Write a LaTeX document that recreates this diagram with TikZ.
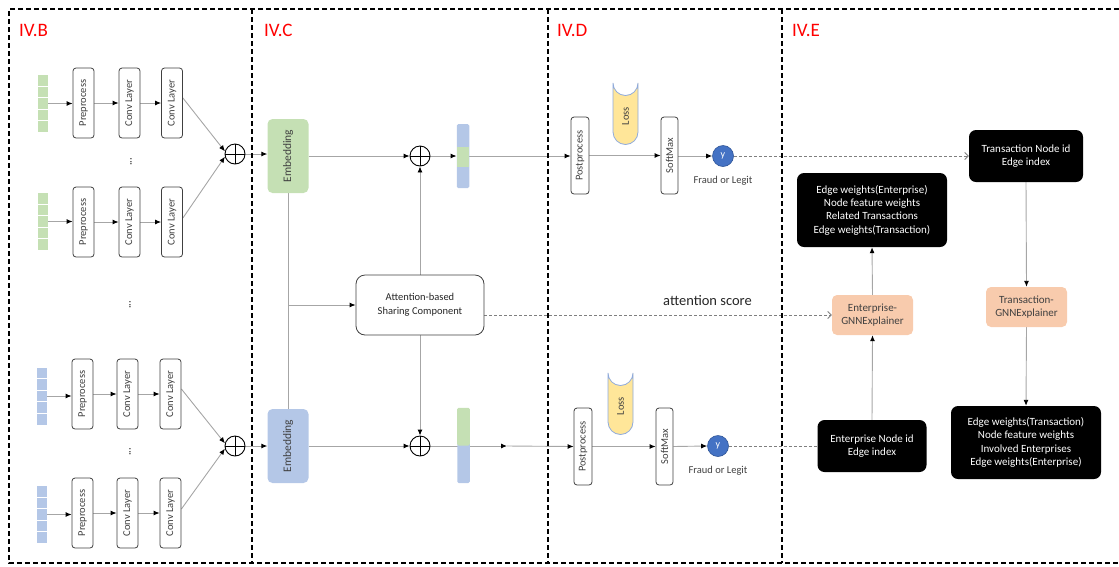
\documentclass[tikz,border=0pt]{standalone}
\usepackage{fontspec}
\setmainfont{Carlito}
\usetikzlibrary{arrows.meta,calc,backgrounds}

\definecolor{vgreen}{HTML}{C5E0B4}
\definecolor{vblue}{HTML}{B4C7E7}
\definecolor{peach}{HTML}{F8CBAD}
\definecolor{lossfill}{HTML}{FFE699}
\definecolor{lossedge}{HTML}{8FAADC}
\definecolor{ydot}{HTML}{4472C4}
\definecolor{ydotedge}{HTML}{2F5597}
\definecolor{txt}{HTML}{404040}
\definecolor{conn}{HTML}{A6A6A6}
\definecolor{dconn}{HTML}{7F7F7F}

\tikzset{
  frame/.style={draw=black, line width=1.3pt, dash pattern=on 5pt off 3pt},
  sec/.style={text=red, font=\fontsize{19}{22}\selectfont, anchor=west, inner sep=0pt},
  layerbox/.style={draw=txt, line width=0.8pt, rounded corners=3pt, fill=white,
    minimum width=#1, minimum height=70pt, inner sep=0pt, text=txt,
    font=\fontsize{10.5}{12}\selectfont},
  layerbox/.default=21pt,
  invec/.style={minimum width=10pt, minimum height=57pt, inner sep=0pt, fill=#1,
    path picture={\foreach \k in {1,2,3,4}{
      \draw[white, line width=1pt]
        ($(path picture bounding box.north west)!\k/5!(path picture bounding box.south west)$) --
        ($(path picture bounding box.north east)!\k/5!(path picture bounding box.south east)$);}}},
  plus/.style={circle, draw=black, line width=0.9pt, minimum size=20pt, inner sep=0pt, fill=white,
    path picture={\draw[line width=0.9pt]
      (path picture bounding box.north) -- (path picture bounding box.south)
      (path picture bounding box.west) -- (path picture bounding box.east);}},
  emb/.style={fill=#1, rounded corners=5pt, minimum width=41pt, minimum height=74pt,
    inner sep=0pt, text=txt, font=\fontsize{11.5}{13}\selectfont},
  bar/.style={fill=vblue, rounded corners=1.5pt, minimum width=12.5pt, inner sep=0pt},
  attbox/.style={draw=txt, line width=0.8pt, rounded corners=9pt, fill=white,
    minimum width=128pt, minimum height=60pt, align=center, text=black!85,
    font=\fontsize{10.5}{14}\selectfont},
  losscan/.style={fill=lossfill, draw=lossedge, line width=0.8pt},
  ycirc/.style={circle, fill=ydot, draw=ydotedge, line width=0.6pt, minimum size=21pt,
    inner sep=0pt, text=white, font=\fontsize{10}{10}\selectfont},
  small/.style={text=txt, font=\fontsize{10.5}{12}\selectfont, inner sep=0pt},
  blk/.style={fill=black, rounded corners=7pt, text=white, align=center,
    font=\fontsize{11}{13.3}\selectfont, inner sep=0pt},
  pch/.style={fill=peach, rounded corners=5pt, text=txt, align=center,
    font=\fontsize{11}{13.3}\selectfont, minimum width=81pt, minimum height=40pt, inner sep=0pt},
  vdots/.style={text=black, font=\fontsize{10.5}{12}\selectfont, inner sep=0pt},
  ln/.style={draw=conn, line width=0.9pt},
  arr/.style={draw=conn, line width=0.9pt, -{Latex[length=6pt,width=5pt,color=black]}},
  darr/.style={draw=dconn, line width=0.9pt, dash pattern=on 3pt off 2pt,
    -{Straight Barb[length=3.5pt,width=7pt]}},
  dln/.style={draw=dconn, line width=0.9pt, dash pattern=on 3pt off 2pt},
}

\begin{document}
\begin{tikzpicture}[x=1pt, y=-1pt]
\useasboundingbox (0,0) rectangle (1119,566);

% section frame
\draw[frame] (1119,9) -- (9,9) -- (9,563) -- (1119,563);
\draw[frame] (252,9) -- (252,563);
\draw[frame] (548,9) -- (548,563);
\draw[frame] (782,9) -- (782,563);

\node[sec] (lb) at (19,30) {IV.B};
\node[sec] (lc) at (264,30) {IV.C};
\node[sec] (ld) at (557,30) {IV.D};
\node[sec] (le) at (792,30) {IV.E};

% ---------- IV.B : per-source convolution branches ----------
\node[invec=vgreen] (v1) at (43,103.5) {};
\node[layerbox] (p1) at (83.5,103) {\rotatebox{90}{Preprocess}};
\node[layerbox] (ca1) at (129.5,103) {\rotatebox{90}{Conv Layer}};
\node[layerbox] (cb1) at (172,103) {\rotatebox{90}{Conv Layer}};

\node[invec=vgreen] (v2) at (43,221.5) {};
\node[layerbox] (p2) at (83.5,222) {\rotatebox{90}{Preprocess}};
\node[layerbox] (ca2) at (129.5,222) {\rotatebox{90}{Conv Layer}};
\node[layerbox] (cb2) at (172,222) {\rotatebox{90}{Conv Layer}};

\node[invec=vblue] (v3) at (42,396) {};
\node[layerbox] (p3) at (82.5,394) {\rotatebox{90}{Preprocess}};
\node[layerbox] (ca3) at (127.5,394) {\rotatebox{90}{Conv Layer}};
\node[layerbox] (cb3) at (170.5,394) {\rotatebox{90}{Conv Layer}};

\node[invec=vblue] (v4) at (42,514.5) {};
\node[layerbox] (p4) at (82.5,513) {\rotatebox{90}{Preprocess}};
\node[layerbox] (ca4) at (127.5,513) {\rotatebox{90}{Conv Layer}};
\node[layerbox] (cb4) at (170.5,513) {\rotatebox{90}{Conv Layer}};

\node[vdots] (dt1) at (131,162) {\rotatebox{90}{...}};
\node[vdots] (dt2) at (130,305) {\rotatebox{90}{...}};
\node[vdots] (dt3) at (130,452) {\rotatebox{90}{...}};

\node[plus] (s1) at (235,154) {};
\node[plus] (s2) at (235,446) {};

% ---------- IV.C : embeddings and attention sharing ----------
\node[emb=vgreen] (e1) at (288,156) {\rotatebox{90}{Embedding}};
\node[emb=vblue] (e2) at (288,446) {\rotatebox{90}{Embedding}};
\node[attbox] (att) at (420,305) {Attention-based\\Sharing Component};
\node[plus] (m1) at (420,156) {};
\node[plus] (m2) at (420,446) {};

\node[bar, minimum height=64pt] (b1) at (463,156) {};
\fill[vgreen] ($(b1.north west)!0.36!(b1.south west)$) rectangle ($(b1.north east)!0.67!(b1.south east)$);
\node[bar, minimum height=75pt] (b2) at (463.5,445.5) {};
\fill[vgreen, rounded corners=1.5pt] (b2.north west) -- (b2.north east) -- (b2.east) -- (b2.west) -- cycle;
\coordinate (h2) at (507,446);

% ---------- IV.D : classification heads ----------
\draw[losscan] (613,83) -- (613,132) arc[start angle=180, end angle=0, radius=12.5]
  -- (638,83) arc[start angle=0, end angle=180, radius=12.5] -- cycle;
\node[text=txt, font=\fontsize{10.5}{12}\selectfont, inner sep=0pt] (l1) at (625.5,116) {\rotatebox{90}{Loss}};
\node[layerbox=18pt, minimum height=77pt] (pp1) at (580,155.5) {\rotatebox{90}{Postprocess}};
\node[layerbox=17pt, minimum height=77pt] (sm1) at (669.5,155.5) {\rotatebox{90}{SoftMax}};
\node[ycirc] (y1) at (723,156) {y};
\node[small] (f1) at (723,181) {Fraud or Legit};

\draw[losscan] (608,373) -- (608,422) arc[start angle=180, end angle=0, radius=12.5]
  -- (633,373) arc[start angle=0, end angle=180, radius=12.5] -- cycle;
\node[text=txt, font=\fontsize{10.5}{12}\selectfont, inner sep=0pt] (l2) at (620.5,406) {\rotatebox{90}{Loss}};
\node[layerbox=18pt, minimum height=77pt] (pp2) at (583,446.5) {\rotatebox{90}{Postprocess}};
\node[layerbox=17pt, minimum height=77pt] (sm2) at (664.5,446.5) {\rotatebox{90}{SoftMax}};
\node[ycirc] (y2) at (718,446) {y};
\node[small] (f2) at (718,471) {Fraud or Legit};

\node[text=black!85, font=\fontsize{14.5}{16}\selectfont, inner sep=0pt] (as) at (707.5,301) {attention score};

% ---------- IV.E : GNN explainers ----------
\node[blk, minimum width=114pt, minimum height=52pt] (tn) at (1026,156) {Transaction Node id\\Edge index};
\node[blk, minimum width=150pt, minimum height=74pt] (er) at (872,210)
  {Edge weights(Enterprise)\\Node feature weights\\Related Transactions\\Edge weights(Transaction)};
\node[pch] (eg) at (872.5,315) {Enterprise-\\GNNExplainer};
\node[pch] (tg) at (1026.5,307) {Transaction-\\GNNExplainer};
\node[blk, minimum width=109pt, minimum height=52pt] (en) at (872,446) {Enterprise Node id\\Edge index};
\node[blk, minimum width=150pt, minimum height=73pt] (tr) at (1026,442.5)
  {Edge weights(Transaction)\\Node feature weights\\Involved Enterprises\\Edge weights(Enterprise)};

% ---------- connectors ----------
\begin{scope}[on background layer]
  \foreach \r in {1,2,3,4}{
    \draw[arr] (v\r.east) -- (v\r.east -| p\r.west);
    \draw[arr] (p\r) -- (ca\r);
    \draw[arr] (ca\r) -- (cb\r);
  }
  \draw[arr] ([yshift=5pt]cb1.east) -- (s1.165);
  \draw[arr] ([yshift=4pt]cb2.east) -- (s1.195);
  \draw[arr] ([yshift=5pt]cb3.east) -- (s2.165);
  \draw[arr] ([yshift=4pt]cb4.east) -- (s2.195);

  \draw[arr] (s1.east) -- (s1.east -| e1.west);
  \draw[arr] (s2.east) -- (e2.west);
  \draw[arr] (e1.east) -- (m1.west);
  \draw[arr] (e2.east) -- (m2.west);
  \draw[ln] (e1.south) -- (e2.north);
  \draw[arr] (e1.south |- att.west) -- (att.west);
  \draw[arr] (att.north) -- (m1.south);
  \draw[arr] (att.south) -- (m2.north);
  \draw[arr] (m1.east) -- (b1.west);
  \draw[arr] (m2.east) -- (h2);
  \draw[arr] (b1.east) -- (b1.east -| pp1.west);
  \draw[arr] (h2) -- (pp2.west);

  \draw[arr] (pp1) -- (sm1);
  \draw[arr] (sm1.east |- y1) -- (y1.west);
  \draw[arr] (pp2) -- (sm2);
  \draw[arr] (sm2.east) -- (y2.west);

  \draw[darr] (y1.east) -- (tn.west);
  \draw[dln] (y2.east) -- (en.west);
  \draw[darr] (att.east |- eg.west) -- (eg.west);

  \draw[arr] (en.north) -- (eg.south);
  \draw[arr] (eg.north) -- (er.south);
  \draw[arr] (tn.south) -- (tg.north);
  \draw[arr] (tg.south) -- (tr.north);
\end{scope}
\end{tikzpicture}
\end{document}
